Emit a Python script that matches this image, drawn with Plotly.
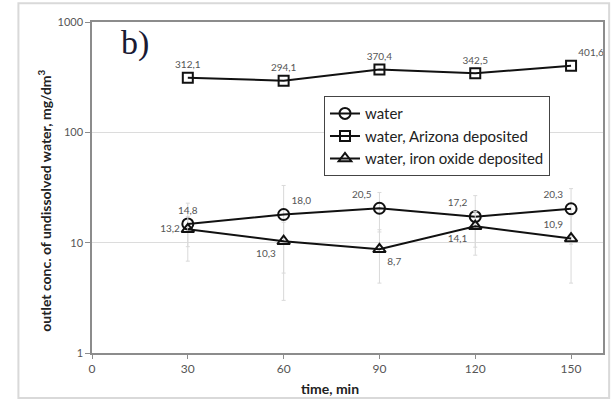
import plotly.graph_objects as go

time = [30, 60, 90, 120, 150]
water = [14.8, 18.0, 20.5, 17.2, 20.3]
water_err = [8.0, 15.0, 8.0, 9.5, 10.6]
arizona = [312.1, 294.1, 370.4, 342.5, 401.6]
iron = [13.2, 10.3, 8.7, 14.1, 10.9]
iron_err = [4.0, 5.0, 4.4, 5.0, 6.6]

def lab(v):
    return f"{v:.1f}".replace(".", ",")

fig = go.Figure()

eb = dict(type="data", thickness=1, width=2, color="#d9d9d9")

fig.add_trace(go.Scatter(
    x=time, y=water, name="water", mode="lines+markers+text",
    line=dict(color="#111", width=2),
    marker=dict(symbol="circle-open", size=11, color="#111", line=dict(width=2)),
    error_y=dict(array=water_err, **eb),
    text=[lab(v) for v in water],
    textposition=["top center", "top right", "top left", "top left", "top left"],
    textfont=dict(size=10, color="#555", family="Lato"),
))
fig.add_trace(go.Scatter(
    x=time, y=arizona, name="water, Arizona deposited", mode="lines+markers+text",
    line=dict(color="#111", width=2),
    marker=dict(symbol="square-open", size=10, color="#111", line=dict(width=2)),
    text=[lab(v) for v in arizona],
    textposition=["top center"] * 4 + ["top right"],
    textfont=dict(size=10, color="#555", family="Lato"),
))
fig.add_trace(go.Scatter(
    x=time, y=iron, name="water, iron oxide deposited", mode="lines+markers+text",
    line=dict(color="#111", width=2),
    marker=dict(symbol="triangle-up-open", size=11, color="#111", line=dict(width=2)),
    error_y=dict(array=iron_err, **eb),
    text=[lab(v) for v in iron],
    textposition=["middle left", "bottom left", "bottom right", "bottom left", "top left"],
    textfont=dict(size=10, color="#555", family="Lato"),
))

fig.update_layout(
    width=615, height=400,
    margin=dict(l=92, r=10, t=22, b=47),
    paper_bgcolor="white", plot_bgcolor="white",
    font=dict(family="Lato", color="#222"),
    showlegend=True,
    legend=dict(
        x=0.454, y=0.776, xanchor="left", yanchor="top",
        bordercolor="#444", borderwidth=1, bgcolor="white",
        font=dict(size=15, family="Lato", color="#222"),
        itemwidth=30, tracegroupgap=4,
    ),
    xaxis=dict(
        range=[0, 160], tickvals=[0, 30, 60, 90, 120, 150],
        showgrid=False, zeroline=False,
        showline=True, linecolor="#8c8c8c", linewidth=1.5, mirror=True,
        ticks="outside", ticklen=4, tickcolor="#8c8c8c",
        tickfont=dict(size=12, color="#555"),
    ),
    yaxis=dict(
        type="log", range=[0, 3], tickvals=[1, 10, 100, 1000],
        ticktext=["1", "10", "100", "1000"],
        showgrid=True, gridcolor="#dcdcdc", gridwidth=1,
        showline=True, linecolor="#8c8c8c", linewidth=1.5, mirror=True,
        ticks="outside", ticklen=5, tickcolor="#8c8c8c",
        tickfont=dict(size=11, color="#555"),
    ),
    shapes=[dict(type="rect", xref="paper", yref="paper",
                 x0=-0.144, x1=1.012, y0=-0.136, y1=1.057,
                 line=dict(color="#d9d9d9", width=2), layer="below")],
    annotations=[
        dict(text="b)", xref="paper", yref="paper", x=0.052, y=1.0,
             xanchor="left", yanchor="top", showarrow=False,
             font=dict(family="Liberation Serif", size=34, color="#1a1a33")),
        dict(text="<b>time, min</b>", xref="paper", yref="paper", x=0.465, y=-0.075,
             xanchor="center", yanchor="top", showarrow=False,
             font=dict(size=14, color="#222")),
        dict(text="<b>outlet conc. of undissolved water, mg/dm<sup>3</sup></b>",
             xref="paper", yref="paper", x=-0.092, y=0.46, textangle=-90,
             xanchor="center", yanchor="middle", showarrow=False,
             font=dict(size=14, color="#222")),
    ],
)

fig.write_html("out.html")
